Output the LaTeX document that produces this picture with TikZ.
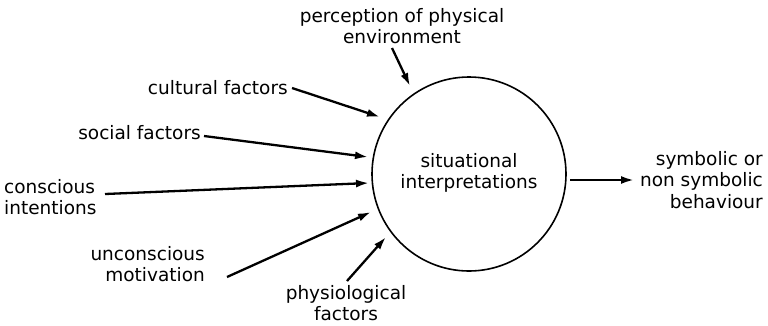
\documentclass[tikz,border=0pt]{standalone}
\usepackage{fontspec}
\setmainfont{DejaVu Sans}
\usetikzlibrary{arrows.meta}
\begin{document}
\begin{tikzpicture}[x=1pt,y=-1pt,
  lbl/.style={inner sep=0pt,font=\fontsize{18.5}{21.5}\selectfont},
  arr/.style={line width=2.3pt,-{Latex[length=13pt,width=8pt]}}]
\useasboundingbox (0,0) rectangle (768,325);
\node[draw,circle,line width=1.6pt,minimum size=194pt,inner sep=0pt] (c) at (469,174) {};
\node[lbl,align=center] (ci) at (469,173) {situational\\interpretations};
\node[lbl,align=center] (pe) at (402,26) {perception of physical\\environment};
\node[lbl,anchor=east] (cf) at (288,88) {cultural factors};
\node[lbl,anchor=east] (sf) at (201,133) {social factors};
\node[lbl,align=left,anchor=west] (cs) at (4,197) {conscious\\intentions};
\node[lbl,align=right,anchor=east] (um) at (205,264) {unconscious\\motivation};
\node[lbl,align=center] (pf) at (346,303) {physiological\\factors};
\node[lbl,align=right,anchor=east] (sb) at (763,180) {symbolic or\\non symbolic\\behaviour};
\coordinate (pe1) at (392,48); \coordinate (pe2) at (410,86);
\coordinate (cf1) at (292,88); \coordinate (cf2) at (380,117);
\coordinate (sf1) at (204,136); \coordinate (sf2) at (368,157);
\coordinate (cs1) at (105,194); \coordinate (cs2) at (369,183);
\coordinate (um1) at (227,277); \coordinate (um2) at (371,212);
\coordinate (pf1) at (347,281); \coordinate (pf2) at (386,237);
\coordinate (sb1) at (570,180); \coordinate (sb2) at (634,180);
\draw[arr] (pe1) -- (pe2);
\draw[arr] (cf1) -- (cf2);
\draw[arr] (sf1) -- (sf2);
\draw[arr] (cs1) -- (cs2);
\draw[arr] (um1) -- (um2);
\draw[arr] (pf1) -- (pf2);
\draw[arr] (sb1) -- (sb2);
\end{tikzpicture}
\end{document}
